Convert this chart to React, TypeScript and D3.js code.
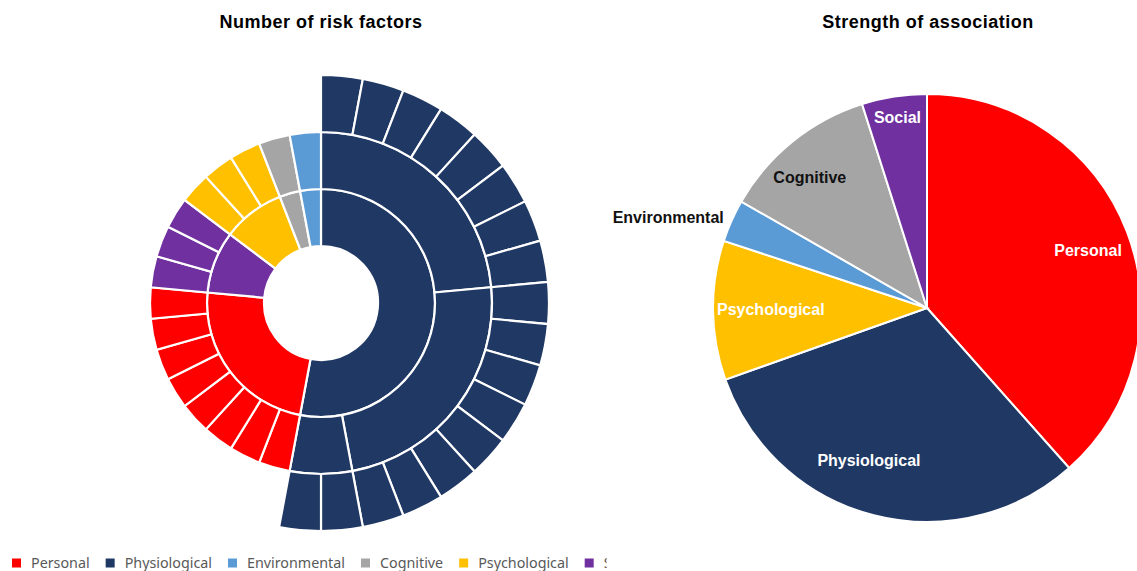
import React from "react";
import * as d3 from "d3";

// categories and their colours (legend order)
const categories = ["Personal", "Physiological", "Environmental", "Cognitive", "Psychological", "Social"];
const categoryColors = ["#FF0000", "#203864", "#5B9BD5", "#A5A5A5", "#FFC000", "#7030A0"];

// sunburst: number of risk factors, clockwise from 12 o'clock
const sunburstOrder = ["Physiological", "Personal", "Social", "Psychological", "Cognitive", "Environmental"];
const riskFactorCounts = [18, 8, 3, 3, 1, 1];
const physiologicalSubgroups = [8, 8, 2];

// pie: strength of association, clockwise from 12 o'clock
const pieOrder = ["Personal", "Physiological", "Psychological", "Environmental", "Cognitive", "Social"];
const associationShares = [38.4, 31.1, 10.5, 3.2, 11.8, 4.9];

const W = 1137;
const H = 571;
const color = d3.scaleOrdinal<string, string>().domain(categories).range(categoryColors);
const boldFont = "'Liberation Sans', Arial, sans-serif";

type Node = { name: string; cat: string; value?: number; children?: Node[] };

function buildTree(): Node {
  const leaves = (id: string, cat: string, n: number): Node[] =>
    d3.range(n).map((i) => ({ name: `${id}-${i}`, cat, value: 1 }));
  return {
    name: "root",
    cat: "",
    children: sunburstOrder.map((cat, i) => {
      if (cat === "Physiological") {
        return {
          name: cat,
          cat,
          children: physiologicalSubgroups.map((n, j) => ({
            name: `${cat}-g${j}`,
            cat,
            children: leaves(`${cat}-g${j}`, cat, n),
          })),
        };
      }
      return { name: cat, cat, children: leaves(cat, cat, riskFactorCounts[i]) };
    }),
  };
}

function Sunburst({ cx, cy, radius }: { cx: number; cy: number; radius: number }) {
  const root = d3.hierarchy<Node>(buildTree()).sum((d) => d.value || 0);
  d3.partition<Node>().size([2 * Math.PI, 4])(root);
  const r = d3.scaleLinear().domain([0, 4]).range([0, radius]);
  const arc = d3
    .arc<d3.HierarchyRectangularNode<Node>>()
    .startAngle((d) => d.x0)
    .endAngle((d) => d.x1)
    .innerRadius((d) => r(d.y0))
    .outerRadius((d) => r(d.y1));
  const nodes = (root as d3.HierarchyRectangularNode<Node>).descendants().filter((d) => d.depth > 0);
  return (
    <g transform={`translate(${cx},${cy})`}>
      {nodes.map((d) => (
        <path key={d.data.name} d={arc(d) || ""} fill={color(d.data.cat)} stroke="#fff" strokeWidth={2.2} />
      ))}
    </g>
  );
}

// label placement tweaks: radius factor and angle shift (degrees)
const labelPlace: Record<string, [number, number]> = {
  Personal: [0.8, 1],
  Physiological: [0.76, 6.5],
  Psychological: [0.73, 0],
  Environmental: [1.04, 0],
  Cognitive: [0.82, -3],
  Social: [0.9, 0],
};

function Pie({ cx, cy, radius }: { cx: number; cy: number; radius: number }) {
  const data = pieOrder.map((name, i) => ({ name, value: associationShares[i] }));
  const arcs = d3.pie<{ name: string; value: number }>().sort(null).value((d) => d.value)(data);
  const arc = d3.arc<d3.PieArcDatum<{ name: string; value: number }>>().innerRadius(0).outerRadius(radius);
  const dark = new Set(["Cognitive", "Environmental"]);
  return (
    <g transform={`translate(${cx},${cy})`}>
      {arcs.map((a) => (
        <path key={a.data.name} d={arc(a) || ""} fill={color(a.data.name)} stroke="#fff" strokeWidth={2} />
      ))}
      {arcs.map((a) => {
        const [rf, shift] = labelPlace[a.data.name];
        const mid = (a.startAngle + a.endAngle) / 2 + (shift * Math.PI) / 180;
        const lr = radius * rf;
        const x = Math.sin(mid) * lr;
        const y = -Math.cos(mid) * lr;
        const outside = a.data.name === "Environmental";
        return (
          <text
            key={a.data.name}
            x={x}
            y={y}
            dy="0.35em"
            textAnchor={outside ? "end" : "middle"}
            fill={dark.has(a.data.name) ? "#111" : "#fff"}
            fontFamily={boldFont}
            fontWeight="bold"
            fontSize={16}
          >
            {a.data.name}
          </text>
        );
      })}
    </g>
  );
}

function Legend({ x, y }: { x: number; y: number }) {
  const size = 14.3;
  let widths = categories.map((c) => c.length * 7.3);
  if (typeof document !== "undefined") {
    const ctx = document.createElement("canvas").getContext("2d");
    if (ctx) {
      ctx.font = `${size}px 'Noto Sans'`;
      widths = categories.map((c) => ctx.measureText(c).width);
    }
  }
  const offsets: number[] = [];
  let acc = 0;
  widths.forEach((w) => {
    offsets.push(acc);
    acc += 19 + w + 16;
  });
  // the legend is cut off just after the last swatch
  const clipW = x + offsets[offsets.length - 1] + 19 + 3;
  return (
    <g clipPath="url(#legendClip)">
      <defs>
        <clipPath id="legendClip">
          <rect x={0} y={y - 15} width={clipW} height={30} />
        </clipPath>
      </defs>
      <g transform={`translate(${x},${y})`}>
        {categories.map((c, i) => (
          <g key={c} transform={`translate(${offsets[i]},0)`}>
            <rect x={0} y={-4.5} width={9} height={9} fill={color(c)} />
            <text x={19} y={0} dy="0.35em" fill="#595959" fontFamily="'Noto Sans', sans-serif" fontSize={size}>
              {c}
            </text>
          </g>
        ))}
      </g>
    </g>
  );
}

export default function App() {
  return (
    <svg
      width={W}
      height={H}
      style={{ position: "absolute", left: 0, top: 0, background: "#fff" }}
      viewBox={`0 0 ${W} ${H}`}
    >
      <text x={321} y={28} textAnchor="middle" fontFamily={boldFont} fontWeight="bold" fontSize={18} letterSpacing={0.5} fill="#000">
        Number of risk factors
      </text>
      <text x={928} y={28} textAnchor="middle" fontFamily={boldFont} fontWeight="bold" fontSize={18} letterSpacing={0.5} fill="#000">
        Strength of association
      </text>
      <Sunburst cx={321} cy={303} radius={228} />
      <Pie cx={927} cy={308} radius={214} />
      <Legend x={12} y={563} />
    </svg>
  );
}
